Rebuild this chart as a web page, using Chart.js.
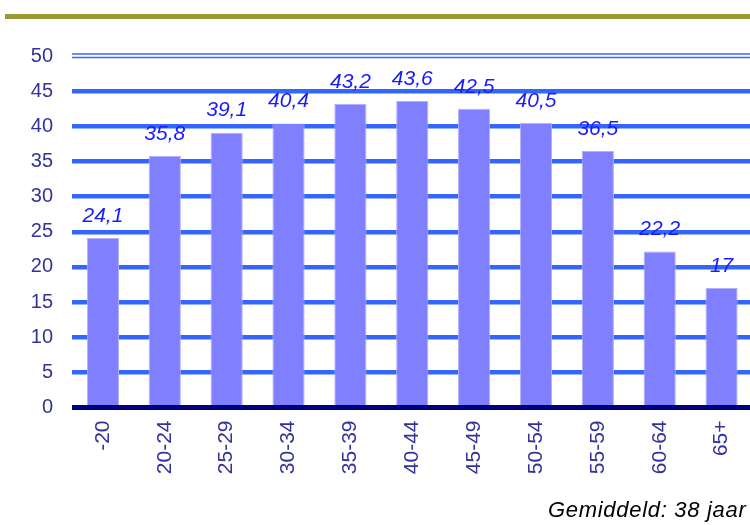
<!DOCTYPE html>
<html>
<head>
<meta charset="utf-8">
<script src="https://cdn.jsdelivr.net/npm/chart.js@4.4.1/dist/chart.umd.min.js"></script>
<style>
  html, body { margin: 0; padding: 0; background: #ffffff; overflow: hidden; width: 750px; height: 525px; }
  #topline { position: absolute; left: 5px; top: 14px; width: 745px; height: 5px; background: #999933; }
  #wrap { position: absolute; left: 0; top: 0; width: 760px; height: 525px; }
  #note { position: absolute; left: 548px; top: 497px; font: italic 22px "Liberation Sans", Arial, sans-serif; color: #000; white-space: nowrap; letter-spacing: 0.7px; }
</style>
</head>
<body>
<div id="topline"></div>
<div id="wrap"><canvas id="c"></canvas></div>
<div id="note">Gemiddeld: 38 jaar</div>
<script>
const categories = ["-20", "20-24", "25-29", "30-34", "35-39", "40-44", "45-49", "50-54", "55-59", "60-64", "65+"];
const values = [24.1, 35.8, 39.1, 40.4, 43.2, 43.6, 42.5, 40.5, 36.5, 22.2, 17];
const yTicks = [0, 5, 10, 15, 20, 25, 30, 35, 40, 45, 50];

const FONT = '"Liberation Sans", Arial, sans-serif';

const fmt = v => String(v).replace('.', ',');

const labelPlugin = {
  id: 'valueLabels',
  afterDatasetsDraw(chart) {
    const ctx = chart.ctx;
    const meta = chart.getDatasetMeta(0);
    ctx.save();
    ctx.font = 'italic 21px ' + FONT;
    ctx.fillStyle = '#1a1aff';
    ctx.textAlign = 'center';
    ctx.textBaseline = 'middle';
    meta.data.forEach((bar, i) => {
      ctx.fillText(fmt(values[i]), bar.x, bar.y - 22);
    });
    ctx.restore();
  }
};

const topDouble = {
  id: 'topDouble',
  beforeDatasetsDraw(chart) {
    const ctx = chart.ctx;
    const y = chart.scales.y.getPixelForValue(50);
    const a = chart.chartArea;
    ctx.save();
    ctx.strokeStyle = '#3366ff';
    ctx.lineWidth = 1.5;
    [y - 2, y + 1.5].forEach(yy => {
      ctx.beginPath();
      ctx.moveTo(a.left, yy);
      ctx.lineTo(a.right, yy);
      ctx.stroke();
    });
    ctx.restore();
  }
};

new Chart(document.getElementById('c'), {
  type: 'bar',
  data: {
    labels: categories,
    datasets: [{
      data: values,
      backgroundColor: '#8080ff',
      borderColor: '#b0b0ff',
      borderWidth: 1,
      barPercentage: 0.52,
      categoryPercentage: 1.0
    }]
  },
  options: {
    responsive: true,
    maintainAspectRatio: false,
    animation: false,
    layout: { padding: { top: 56, right: 5, bottom: 0, left: 0 } },
    plugins: { legend: { display: false }, tooltip: { enabled: false } },
    scales: {
      x: {
        grid: { display: false, drawTicks: false },
        border: { display: false },
        ticks: {
          color: '#333399',
          font: { family: FONT, size: 21 },
          minRotation: 90,
          maxRotation: 90,
          padding: 13
        },
        afterFit(s) { s.height = 117.5; }
      },
      y: {
        min: 0,
        max: 50,
        afterBuildTicks(s) { s.ticks = yTicks.map(v => ({ value: v })); },
        grid: {
          drawTicks: false,
          color: ctx => ctx.tick.value === 0 ? '#000080' : (ctx.tick.value === 50 ? 'rgba(0,0,0,0)' : '#3366ff'),
          lineWidth: ctx => ctx.tick.value === 0 ? 5 : 4.5
        },
        border: { display: false },
        ticks: {
          color: '#333399',
          font: { family: FONT, size: 20 },
          padding: 19
        },
        afterFit(s) { s.width = 72; }
      }
    }
  },
  plugins: [topDouble, labelPlugin]
});
</script>
</body>
</html>
